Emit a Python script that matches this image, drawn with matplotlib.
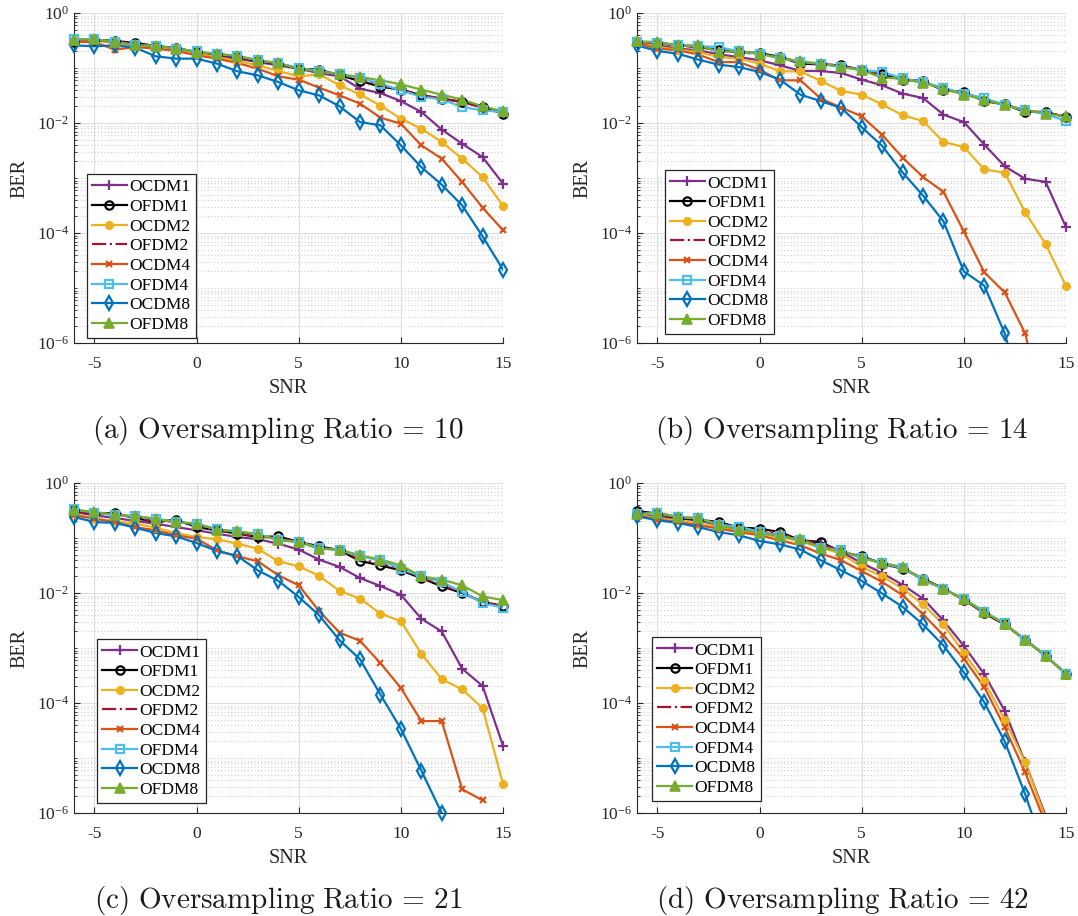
import numpy as np
import matplotlib.pyplot as plt
from matplotlib.lines import Line2D
from matplotlib.ticker import FixedLocator, LogLocator, NullFormatter

plt.rcParams["font.family"] = ["Liberation Serif", "DejaVu Serif"]
plt.rcParams["mathtext.fontset"] = "stix"
plt.rcParams["axes.unicode_minus"] = False

nan = np.nan
snr = list(range(-6, 16))

# (a) oversampling ratio 10
A_OCDM1 = [0.318, 0.327, 0.285, 0.258, 0.241, 0.215, 0.188, 0.163, 0.148, 0.128, 0.112, 0.097, 0.081, 0.0705, 0.042, 0.035, 0.025, 0.0159, 0.0076, 0.0042, 0.0024, 7.9e-4]
A_OFDM1 = [0.297, 0.327, 0.31, 0.285, 0.251, 0.231, 0.195, 0.177, 0.158, 0.134, 0.12, 0.097, 0.093, 0.074, 0.058, 0.046, 0.0404, 0.0318, 0.0277, 0.0241, 0.0195, 0.0148]
A_OCDM2 = [0.318, 0.318, 0.285, 0.248, 0.234, 0.21, 0.182, 0.158, 0.134, 0.112, 0.088, 0.0705, 0.0767, 0.0484, 0.0332, 0.0207, 0.012, 0.00789, 0.00452, 0.00225, 0.00104, 3.1e-4]
A_OFDM2 = [0.30, 0.32, 0.30, 0.28, 0.25, 0.23, 0.195, 0.175, 0.158, 0.135, 0.12, 0.098, 0.09, 0.075, 0.06, 0.048, 0.041, 0.032, 0.028, 0.024, 0.019, 0.0152]
A_OCDM4 = [0.297, 0.297, 0.215, 0.241, 0.225, 0.204, 0.17, 0.148, 0.123, 0.097, 0.0705, 0.0614, 0.0439, 0.0318, 0.0225, 0.0125, 0.0097, 0.00393, 0.00225, 8.46e-4, 2.89e-4, 1.12e-4]
A_OFDM4 = [0.34, 0.33, 0.30, 0.26, 0.25, 0.225, 0.2, 0.18, 0.165, 0.14, 0.122, 0.1, 0.088, 0.077, 0.066, 0.052, 0.039, 0.030, 0.027, 0.0195, 0.017, 0.0158]
A_OCDM8 = [0.258, 0.248, 0.258, 0.234, 0.163, 0.148, 0.148, 0.12, 0.087, 0.0736, 0.0556, 0.0393, 0.0318, 0.0201, 0.0104, 0.00907, 0.00393, 0.00158, 7.57e-4, 3.18e-4, 8.7e-5, 2.15e-5]
A_OFDM8 = [0.327, 0.332, 0.297, 0.258, 0.251, 0.225, 0.195, 0.182, 0.165, 0.138, 0.123, 0.0973, 0.087, 0.0767, 0.0686, 0.0597, 0.0505, 0.0404, 0.0327, 0.0266, 0.0201, 0.0163]

# (b) oversampling ratio 14
B_OCDM1 = [0.297, 0.258, 0.225, 0.21, 0.177, 0.158, 0.138, 0.112, 0.0883, 0.0883, 0.081, 0.0614, 0.0484, 0.0342, 0.0285, 0.0142, 0.0104, 0.00405, 0.00163, 9.7e-4, 8.5e-4, 1.28e-4]
B_OFDM1 = [0.297, 0.285, 0.258, 0.241, 0.21, 0.195, 0.188, 0.158, 0.12, 0.116, 0.112, 0.091, 0.0767, 0.0614, 0.058, 0.0393, 0.0366, 0.025, 0.0218, 0.0159, 0.0159, 0.0128]
B_OCDM2 = [0.297, 0.241, 0.215, 0.195, 0.158, 0.148, 0.12, 0.087, 0.087, 0.058, 0.0383, 0.0327, 0.0218, 0.0138, 0.0109, 0.00452, 0.00366, 0.00143, 0.00125, 2.39e-4, 6.3e-5, 1.09e-5]
B_OFDM2 = [0.30, 0.28, 0.26, 0.24, 0.215, 0.19, 0.18, 0.16, 0.125, 0.118, 0.11, 0.092, 0.078, 0.063, 0.056, 0.041, 0.036, 0.026, 0.022, 0.0165, 0.0155, 0.013]
B_OCDM4 = [0.285, 0.225, 0.21, 0.175, 0.128, 0.128, 0.093, 0.0597, 0.0597, 0.0277, 0.0191, 0.0132, 0.0061, 0.00235, 0.00104, 5.6e-4, 1.07e-4, 1.93e-5, 8.3e-6, 1.5e-6, 4e-8, nan]
B_OFDM4 = [0.30, 0.29, 0.26, 0.25, 0.241, 0.2, 0.18, 0.15, 0.13, 0.118, 0.105, 0.092, 0.0845, 0.065, 0.055, 0.0439, 0.034, 0.0287, 0.021, 0.017, 0.0145, 0.0109]
B_OCDM8 = [0.258, 0.204, 0.182, 0.142, 0.115, 0.104, 0.0845, 0.0614, 0.0327, 0.025, 0.0187, 0.0084, 0.00383, 0.00126, 4.8e-4, 1.63e-4, 2.0e-5, 1.1e-5, 1.5e-6, 7e-8, nan, nan]
B_OFDM8 = [0.305, 0.297, 0.258, 0.258, 0.195, 0.204, 0.182, 0.152, 0.132, 0.12, 0.104, 0.091, 0.0667, 0.0639, 0.0535, 0.042, 0.0327, 0.0266, 0.0209, 0.0175, 0.0148, 0.0132]

# (c) oversampling ratio 21
C_OCDM1 = [0.297, 0.258, 0.231, 0.204, 0.182, 0.158, 0.138, 0.12, 0.104, 0.095, 0.079, 0.0614, 0.0404, 0.0298, 0.0187, 0.0134, 0.0093, 0.00341, 0.002, 4.2e-4, 2.04e-4, 1.67e-5]
C_OFDM1 = [0.318, 0.277, 0.285, 0.231, 0.195, 0.215, 0.158, 0.138, 0.12, 0.104, 0.107, 0.0845, 0.0705, 0.0597, 0.0383, 0.0318, 0.0258, 0.0187, 0.0132, 0.01, 0.0069, 0.0058]
C_OCDM2 = [0.277, 0.225, 0.201, 0.182, 0.154, 0.123, 0.104, 0.095, 0.079, 0.064, 0.0377, 0.0306, 0.0205, 0.0109, 0.0079, 0.00422, 0.00307, 7.9e-4, 2.7e-4, 1.77e-4, 8.1e-5, 3.4e-6]
C_OFDM2 = [0.31, 0.28, 0.27, 0.235, 0.2, 0.2, 0.165, 0.14, 0.122, 0.106, 0.1, 0.085, 0.068, 0.06, 0.041, 0.034, 0.027, 0.0192, 0.0138, 0.0102, 0.0068, 0.0057]
C_OCDM4 = [0.258, 0.225, 0.195, 0.158, 0.138, 0.112, 0.097, 0.0597, 0.0464, 0.0377, 0.021, 0.0138, 0.0047, 0.0019, 0.00135, 5.3e-4, 1.88e-4, 4.7e-5, 4.7e-5, 2.7e-6, 1.7e-6, nan]
C_OFDM4 = [0.33, 0.29, 0.26, 0.25, 0.22, 0.195, 0.18, 0.145, 0.13, 0.118, 0.092, 0.085, 0.066, 0.06, 0.047, 0.039, 0.0277, 0.02, 0.0159, 0.0104, 0.0066, 0.0054]
C_OCDM8 = [0.241, 0.195, 0.188, 0.154, 0.123, 0.107, 0.081, 0.058, 0.047, 0.0258, 0.0166, 0.0085, 0.00393, 0.00138, 6.25e-4, 1.42e-4, 3.4e-5, 5.9e-6, 1.0e-6, nan, nan, nan]
C_OFDM8 = [0.327, 0.297, 0.265, 0.251, 0.225, 0.195, 0.182, 0.142, 0.132, 0.117, 0.091, 0.0845, 0.0639, 0.0614, 0.0484, 0.0404, 0.0318, 0.0201, 0.0175, 0.0138, 0.0087, 0.0074]

# (d) oversampling ratio 42
D_OCDM1 = [0.269, 0.241, 0.225, 0.21, 0.17, 0.148, 0.128, 0.112, 0.0883, 0.0767, 0.0556, 0.0352, 0.023, 0.0141, 0.0079, 0.00317, 0.00109, 3.35e-4, 7.2e-5, 8.3e-6, 9e-7, nan]
D_OFDM1 = [0.31, 0.277, 0.231, 0.215, 0.195, 0.154, 0.148, 0.128, 0.091, 0.0845, 0.0556, 0.0464, 0.0342, 0.0277, 0.0182, 0.012, 0.0076, 0.0043, 0.00268, 0.00142, 7.3e-4, 3.35e-4]
D_OCDM2 = [0.269, 0.225, 0.21, 0.182, 0.158, 0.138, 0.12, 0.104, 0.087, 0.0667, 0.052, 0.0298, 0.0201, 0.012, 0.0062, 0.00268, 8.1e-4, 2.5e-4, 5.0e-5, 8.3e-6, 8e-7, nan]
D_OFDM2 = [0.29, 0.28, 0.235, 0.22, 0.185, 0.15, 0.14, 0.12, 0.092, 0.08, 0.057, 0.045, 0.035, 0.028, 0.018, 0.0121, 0.0076, 0.0044, 0.0027, 0.0014, 7.2e-4, 3.4e-4]
D_OCDM4 = [0.258, 0.215, 0.195, 0.17, 0.148, 0.128, 0.112, 0.091, 0.0736, 0.052, 0.0393, 0.025, 0.0159, 0.0091, 0.0041, 0.0017, 6.4e-4, 1.95e-4, 3.6e-5, 5.5e-6, 6.4e-7, nan]
D_OFDM4 = [0.27, 0.285, 0.24, 0.23, 0.175, 0.16, 0.13, 0.108, 0.093, 0.067, 0.06, 0.043, 0.035, 0.0285, 0.017, 0.012, 0.0079, 0.0046, 0.0028, 0.0014, 7.4e-4, 3.3e-4]
D_OCDM8 = [0.248, 0.21, 0.188, 0.158, 0.128, 0.112, 0.0883, 0.0767, 0.0614, 0.0393, 0.0258, 0.0166, 0.0098, 0.0056, 0.00268, 0.00111, 3.6e-4, 1.03e-4, 2.0e-5, 2.2e-6, 1.8e-7, nan]
D_OFDM8 = [0.269, 0.289, 0.241, 0.231, 0.17, 0.142, 0.125, 0.107, 0.094, 0.0667, 0.058, 0.0433, 0.0352, 0.0298, 0.0175, 0.012, 0.0077, 0.0045, 0.00277, 0.00138, 7.2e-4, 3.35e-4]

labels = ["OCDM1", "OFDM1", "OCDM2", "OFDM2", "OCDM4", "OFDM4", "OCDM8", "OFDM8"]
captions = ["(a)\\ Oversampling\\ Ratio\\,=\\,10",
            "(b)\\ Oversampling\\ Ratio\\,=\\,14",
            "(c)\\ Oversampling\\ Ratio\\,=\\,21",
            "(d)\\ Oversampling\\ Ratio\\,=\\,42"]
panels = [
    [A_OCDM1, A_OFDM1, A_OCDM2, A_OFDM2, A_OCDM4, A_OFDM4, A_OCDM8, A_OFDM8],
    [B_OCDM1, B_OFDM1, B_OCDM2, B_OFDM2, B_OCDM4, B_OFDM4, B_OCDM8, B_OFDM8],
    [C_OCDM1, C_OFDM1, C_OCDM2, C_OFDM2, C_OCDM4, C_OFDM4, C_OCDM8, C_OFDM8],
    [D_OCDM1, D_OFDM1, D_OCDM2, D_OFDM2, D_OCDM4, D_OFDM4, D_OCDM8, D_OFDM8],
]

styles = [
    dict(color="#7E2F8E", ls="-", marker="+", ms=7, mew=1.6, mfc="#7E2F8E"),
    dict(color="black", ls="-", marker="o", ms=6, mew=1.6, mfc="none"),
    dict(color="#EDB120", ls="-", marker="o", ms=5.5, mew=1.0, mfc="#EDB120"),
    dict(color="#A2142F", ls="-.", marker="None"),
    dict(color="#D95319", ls="-", marker="x", ms=5, mew=1.6, mfc="#D95319"),
    dict(color="#4DBEEE", ls="-", marker="s", ms=6, mew=1.6, mfc="none"),
    dict(color="#0072BD", ls="-", marker="d", ms=7, mew=1.6, mfc="none"),
    dict(color="#77AC30", ls="-", marker="^", ms=7, mew=1.2, mfc="#77AC30"),
]

W, H = 1078, 916
fig = plt.figure(figsize=(W / 100, H / 100), dpi=100)

# axes boxes in pixels: left, top ; legend anchor in axes coords ; caption x, baseline
ax_px = [(74, 13), (637, 13), (74, 483), (637, 483)]
leg_anchor = [(0.030, 0.015), (0.065, 0.027), (0.054, 0.030), (0.035, 0.036)]
cap_px = [(278, 438), (842, 438), (278, 908), (842, 908)]
aw, ah = 429, 330

for k in range(4):
    l, t = ax_px[k]
    ax = fig.add_axes([l / W, 1 - (t + ah) / H, aw / W, ah / H])
    ax.set_yscale("log")
    handles = []
    for data, st in zip(panels[k], styles):
        y = np.array(data, dtype=float)
        x = np.array(snr, dtype=float)
        ax.plot(x, y, color=st["color"], ls=st["ls"], lw=1.6, zorder=3)
        if st["marker"] != "None":
            ok = y >= 0.999e-6
            ax.plot(x[ok], y[ok], ls="none", marker=st["marker"], ms=st["ms"],
                    mew=st["mew"], mec=st["color"], mfc=st["mfc"], clip_on=False, zorder=4)
        handles.append(Line2D([], [], lw=1.6, **st))

    ax.set_xlim(-6, 15)
    ax.set_ylim(1e-6, 1)
    ax.set_xticks([-5, 0, 5, 10, 15])
    ax.yaxis.set_major_locator(FixedLocator([1e-6, 1e-4, 1e-2, 1]))
    ax.yaxis.set_minor_locator(LogLocator(base=10, subs=np.arange(1, 10), numticks=30))
    ax.yaxis.set_minor_formatter(NullFormatter())
    ax.grid(which="major", color="#dedede", lw=0.8)
    ax.grid(which="minor", axis="y", color="#cfcfcf", ls=(0, (1, 2)), lw=0.8)
    ax.set_axisbelow(True)
    ax.spines[["top", "right"]].set_visible(False)
    ax.spines[["left", "bottom"]].set_color("#262626")
    ax.tick_params(which="both", direction="in", colors="#262626", labelsize=12.5)
    ax.tick_params(axis="x", pad=9)
    ax.tick_params(axis="y", pad=3.5)
    ax.tick_params(which="major", length=4)
    ax.tick_params(which="minor", length=2)

    ax.set_xlabel("SNR", fontsize=14.5, color="#262626")
    ax.set_ylabel("BER", fontsize=14.5, color="#262626")
    ax.xaxis.set_label_coords(0.5, -0.108)
    ax.yaxis.set_label_coords(-0.105, 0.5)

    leg = ax.legend(handles, labels, loc="lower left", bbox_to_anchor=leg_anchor[k],
                    borderaxespad=0, fontsize=12.5, frameon=True, fancybox=False,
                    edgecolor="#262626", framealpha=1, handlelength=2.0,
                    handletextpad=0.15, labelspacing=0.2, borderpad=0.3)
    leg.get_frame().set_linewidth(0.9)
    leg.set_zorder(10)

    cx, cy = cap_px[k]
    fig.text(cx / W, 1 - cy / H, "$\\mathrm{" + captions[k] + "}$", math_fontfamily="cm",
             fontsize=21, ha="center", va="baseline", color="#1a1a1a")

fig.savefig("out.png", dpi=100)
